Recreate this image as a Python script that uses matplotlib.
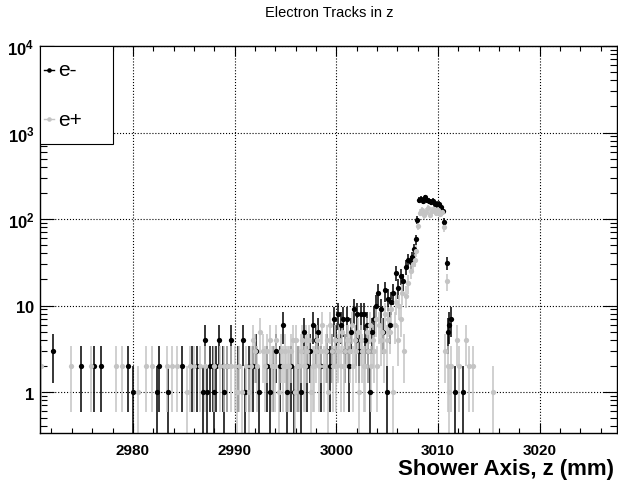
import matplotlib
matplotlib.use('Agg')
import matplotlib.pyplot as plt
from matplotlib.ticker import MultipleLocator, LogLocator, FixedLocator, FixedFormatter, NullFormatter
from matplotlib.patches import Rectangle
from matplotlib.lines import Line2D
import numpy as np

plt.rcParams['font.family'] = ['Liberation Sans', 'DejaVu Sans']
plt.rcParams['mathtext.fontset'] = 'custom'
plt.rcParams['mathtext.rm'] = 'Liberation Sans:bold'
plt.rcParams['mathtext.bf'] = 'Liberation Sans:bold'

# electron tracks (e-): z position (mm) and counts
em_z = [2972.1, 2974.9, 2976.2, 2976.85, 2979.5, 2980.0, 2982.4, 2982.6, 2983.5, 2984.8,
        2985.8, 2986.3, 2986.9, 2987.1, 2987.3, 2987.6, 2987.9, 2988.5, 2988.9, 2989.6,
        2990.8, 2991.4, 2992.1, 2992.4, 2993.2, 2993.8, 2994.1, 2994.8, 2995.2, 2995.5,
        2995.8, 2996.2, 2996.8, 2997.1, 2997.4, 2997.7, 2998.0, 2998.2, 2998.5, 2999.1,
        2999.4, 2999.8, 3000.2, 3000.5, 3000.7, 3001.1, 3001.4, 3001.7, 3001.9, 3002.0,
        3002.4, 3002.7, 3003.0, 3003.3, 3003.5, 3003.7, 3003.9, 3004.1, 3004.4, 3004.8,
        3004.95, 3005.1, 3005.4, 3005.6, 3005.9, 3006.1, 3006.4, 3006.6, 3006.9, 3007.1,
        3007.3, 3007.45, 3007.65, 3007.8, 3007.95, 3008.1, 3008.3, 3008.5, 3008.7, 3008.9,
        3009.1, 3009.3, 3009.5, 3009.7, 3009.9, 3010.1, 3010.3, 3010.45, 3010.6, 3010.85,
        3011.0, 3011.1, 3011.25, 3011.7, 3012.5,
        2988.0, 2988.2, 2989.0, 2989.3, 2990.3, 2991.0, 2991.8, 2993.5, 2994.5, 2996.5,
        2999.6, 3000.0, 3000.9, 3001.25, 3002.2, 3002.85, 3003.15, 3004.6, 3005.25]
em_n = [3, 2, 2, 2, 2, 1, 1, 2, 1, 2,
        2, 2, 1, 4, 1, 2, 2, 4, 2, 4,
        4, 2, 3, 1, 2, 2, 3, 6, 1, 2,
        1, 2, 5, 2, 3, 6, 4, 5, 2, 3,
        2, 7, 8, 6, 7, 7, 5, 9, 4, 8,
        8, 8, 6, 1, 5, 7, 10, 14, 9, 15,
        1, 12, 11, 14, 24, 16, 22, 19, 28, 34,
        32, 36, 45, 58, 98, 165, 172, 160, 178, 168,
        163, 158, 162, 150, 148, 150, 138, 124, 92, 31,
        5, 6, 7, 1, 1,
        1, 2, 1, 2, 2, 1, 2, 1, 2, 1,
        3, 4, 3, 2, 3, 4, 3, 5, 6]

# positron tracks (e+)
ep_z = [2971.0, 2973.9, 2975.85, 2978.3, 2978.9, 2980.55, 2981.3, 2981.9, 2983.35, 2983.85,
        2984.3, 2985.3, 2985.6, 2986.0, 2986.6, 2987.1, 2988.0, 2988.6, 2989.0, 2989.3,
        2989.6, 2990.0, 2990.2, 2990.4, 2990.7, 2991.1, 2991.4, 2991.8, 2992.2, 2992.5,
        2992.8, 2993.0, 2993.5, 2993.8, 2994.1, 2994.4, 2994.6, 2994.8, 2995.1, 2995.4,
        2995.7, 2995.9, 2996.0, 2996.3, 2996.5, 2996.8, 2997.0, 2997.3, 2997.5, 2997.7,
        2998.0, 2998.3, 2998.6, 2999.0, 2999.2, 2999.4, 2999.7, 3000.0, 3000.3, 3000.45,
        3000.6, 3000.9, 3001.2, 3001.5, 3001.65, 3001.8, 3002.1, 3002.2, 3002.4, 3002.7,
        3002.85, 3003.0, 3003.3, 3003.45, 3003.6, 3003.9, 3004.2, 3004.5, 3004.8, 3005.1,
        3005.4, 3005.6, 3005.9, 3006.2, 3006.5, 3006.7, 3006.85, 3007.1, 3007.3, 3007.5,
        3007.7, 3007.85, 3008.0, 3008.2, 3008.4, 3008.6, 3008.8, 3009.0, 3009.2, 3009.4,
        3009.6, 3009.8, 3010.0, 3010.2, 3010.4, 3010.6, 3010.7, 3010.9, 3011.0, 3011.1,
        3011.3, 3011.85, 3012.1, 3012.8, 3013.0, 3013.4, 3015.4,
        2991.6, 2992.0, 2993.2, 2993.65, 2994.0, 2995.0, 2995.25, 2995.55, 2996.15, 2996.65,
        2996.95, 2997.15, 2997.85, 2998.15, 2998.45, 2998.8, 2999.1, 2999.55, 2999.85, 3000.15,
        3000.75, 3001.05, 3001.35, 3001.95, 3002.55, 3003.15, 3003.75, 3004.05, 3004.35, 3004.65,
        3004.95, 3005.25, 3005.75, 3006.05, 3006.35]
ep_n = [2, 2, 2, 2, 2, 1, 2, 2, 2, 2,
        2, 1, 2, 2, 2, 2, 2, 2, 2, 2,
        2, 2, 1, 2, 1, 2, 1, 4, 2, 5,
        3, 2, 4, 2, 4, 1, 3, 2, 2, 2,
        4, 1, 4, 2, 3, 2, 4, 4, 1, 2,
        3, 2, 6, 3, 1, 6, 2, 2, 4, 2,
        5, 3, 4, 6, 2, 4, 5, 1, 4, 2,
        2, 5, 6, 2, 4, 7, 6, 5, 8, 7,
        9, 1, 11, 10, 14, 3, 13, 18, 25, 30,
        34, 43, 84, 118, 128, 110, 122, 135, 112, 125,
        130, 118, 128, 115, 120, 80, 3, 19, 2, 1,
        2, 4, 2, 4, 2, 2, 1,
        2, 3, 3, 2, 2, 3, 2, 3, 2, 4,
        2, 3, 2, 4, 3, 2, 4, 3, 4, 3,
        2, 4, 3, 3, 3, 3, 3, 2, 4, 3,
        4, 5, 6, 4, 7]

em_color = 'black'
ep_color = '#c4c4c4'

fig = plt.figure(figsize=(6.18, 4.89), dpi=100)
ax = fig.add_axes([40 / 618, 1 - 434 / 489, 577 / 618, 387 / 489])


def draw(z, n, color):
    z = np.array(z)
    n = np.array(n, dtype=float)
    err = np.sqrt(n)
    lo = np.minimum(err, n - 1e-3)
    ax.errorbar(z, n, yerr=[lo, err], xerr=0.1, fmt='o', color=color, ecolor=color,
                markersize=3.8, elinewidth=1.1, capsize=0, markeredgewidth=0)


draw(em_z, em_n, em_color)
draw(ep_z, ep_n, ep_color)

ax.set_yscale('log')
ax.set_xlim(2970.87, 3027.6)
ax.set_ylim(0.336, 1e4)

ax.xaxis.set_major_locator(MultipleLocator(10))
ax.xaxis.set_minor_locator(MultipleLocator(2))
ax.yaxis.set_major_locator(FixedLocator([1, 10, 100, 1000, 10000]))
ax.yaxis.set_major_formatter(FixedFormatter([r'$\mathbf{1}$', r'$\mathbf{10}$', r'$\mathbf{10^{2}}$',
                                             r'$\mathbf{10^{3}}$', r'$\mathbf{10^{4}}$']))
ax.yaxis.set_minor_locator(LogLocator(base=10, subs=np.arange(2, 10)))
ax.yaxis.set_minor_formatter(NullFormatter())

ax.tick_params(which='both', direction='in', top=True, right=True, width=0.8)
ax.tick_params(axis='x', which='major', length=7, pad=7, labelsize=11)
ax.tick_params(axis='x', which='minor', length=3.5)
ax.tick_params(axis='y', which='major', length=10, pad=4, labelsize=12)
ax.tick_params(axis='y', which='minor', length=5)
for lab in ax.get_xticklabels():
    lab.set_fontweight('bold')

ax.grid(True, which='major', linestyle=':', color='black', linewidth=0.8)
for s in ax.spines.values():
    s.set_linewidth(1.0)

# legend box
ax.add_patch(Rectangle((0, 1 - 98 / 387), 73 / 577, 98 / 387, transform=ax.transAxes,
                       facecolor='white', edgecolor='black', linewidth=0.8, zorder=5))
for yy, lab, col in [(71, 'e-', em_color), (120, 'e+', ep_color)]:
    fy = 1 - (yy - 47) / 387
    ax.add_line(Line2D([4 / 577, 14 / 577], [fy, fy], transform=ax.transAxes, color=col,
                       lw=1.0, zorder=6))
    ax.add_line(Line2D([9 / 577], [fy], transform=ax.transAxes, color=col, marker='o',
                       markersize=3.3, markeredgewidth=0, zorder=6))
    ax.text(18 / 577, fy, lab, transform=ax.transAxes, fontsize=15, va='center', ha='left',
            zorder=7)

fig.text(329 / 618, 1 - 13 / 489, 'Electron Tracks in z', ha='center', va='center', fontsize=10.5)
fig.text(614 / 618, 14 / 489, 'Shower Axis, z (mm)', ha='right', va='baseline',
         fontsize=16, fontweight='bold')

fig.savefig('out.png', dpi=100)
